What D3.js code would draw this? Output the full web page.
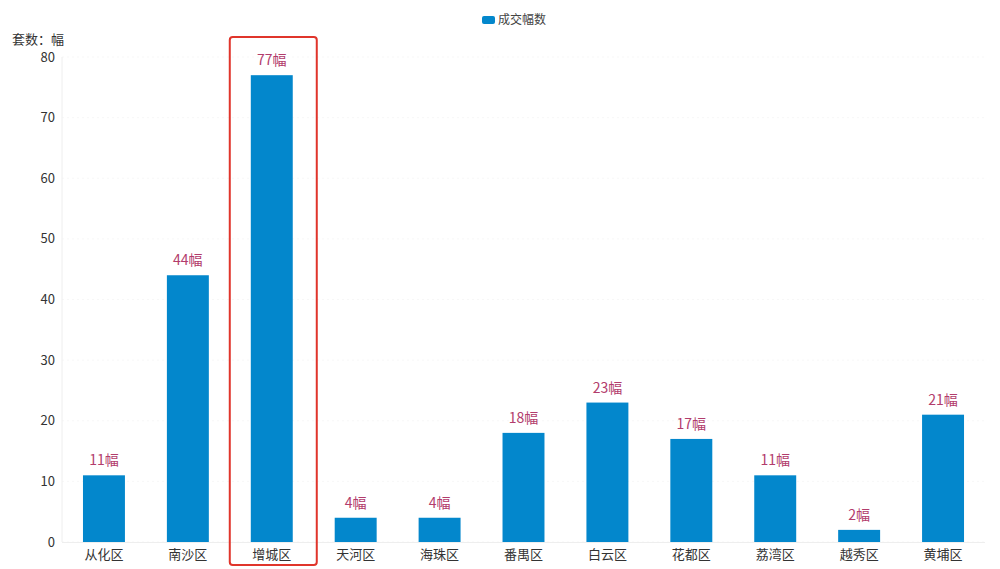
<!DOCTYPE html>
<html><head><meta charset="utf-8">
<script src="https://cdn.jsdelivr.net/npm/d3@7"></script>
<style>body{margin:0;background:#fff;}svg{display:block;font-family:"Noto Sans CJK SC","Noto Sans",sans-serif;}</style>
</head><body>
<svg id="c" width="1000" height="569"></svg>
<script>
const categories = ["从化区","南沙区","增城区","天河区","海珠区","番禺区","白云区","花都区","荔湾区","越秀区","黄埔区"];
const values = [11,44,77,4,4,18,23,17,11,2,21];
const yTicks = [0,10,20,30,40,50,60,70,80];
const seriesName = "成交幅数";
const highlight = "增城区";

const svg = d3.select("#c");
const m = {l:62, r:15, t:57, b:27};
const W = 1000, H = 569;
const x = d3.scaleBand().domain(categories).range([m.l, W-m.r]).paddingInner(0.5).paddingOuter(0.25);
const y = d3.scaleLinear().domain([0,80]).range([H-m.b, m.t]);

// faint grid
svg.append("g").selectAll("line").data(yTicks).join("line")
  .attr("x1", m.l).attr("x2", W-m.r).attr("y1", d=>y(d)).attr("y2", d=>y(d))
  .attr("stroke", "#f7f7f7").attr("stroke-width", 1).attr("stroke-dasharray","2,3");

// axes lines
svg.append("line").attr("x1", m.l).attr("x2", m.l).attr("y1", y(80)).attr("y2", y(0)).attr("stroke","#eeeeee");
svg.append("line").attr("x1", m.l).attr("x2", W-m.r).attr("y1", y(0)+0.5).attr("y2", y(0)+0.5).attr("stroke","#eeeeee");

// y tick labels
svg.append("g").selectAll("text").data(yTicks).join("text")
  .attr("x", 55).attr("y", d=>y(d)).attr("dy","0.35em").attr("text-anchor","end")
  .attr("font-size", 13).attr("fill", "#333").text(d=>d);

// x labels
svg.append("g").selectAll("text").data(categories).join("text")
  .attr("x", d=>x(d)+x.bandwidth()/2).attr("y", y(0)+12).attr("dy","0.35em").attr("text-anchor","middle")
  .attr("font-size", 13).attr("fill", "#333").text(d=>d);

// bars
svg.append("g").selectAll("rect").data(values).join("rect")
  .attr("x", (d,i)=>x(categories[i])).attr("width", x.bandwidth())
  .attr("y", d=>y(d)).attr("height", d=>y(0)-y(d))
  .attr("fill", "#0387cc");

// value labels
svg.append("g").selectAll("text").data(values).join("text")
  .attr("x", (d,i)=>x(categories[i])+x.bandwidth()/2).attr("y", d=>y(d)-10)
  .attr("text-anchor","middle").attr("font-size", 14).attr("fill", "#b23c6c").text(d=>d+"幅");

// highlight box
const hx = x(highlight) + x.bandwidth()/2;
svg.append("rect").attr("x", hx-42).attr("y", 37).attr("width", 87).attr("height", 528)
  .attr("rx", 3).attr("fill","none").attr("stroke","#e0352b").attr("stroke-width", 2);

// y axis title
svg.append("text").attr("x", 12).attr("y", 44).attr("font-size", 13).attr("fill","#333").text("套数：幅");

// legend
svg.append("rect").attr("x", 482).attr("y", 16).attr("width", 13).attr("height", 8).attr("rx", 2).attr("fill","#0387cc");
svg.append("text").attr("x", 498).attr("y", 20).attr("dy","0.35em").attr("font-size", 12).attr("fill","#444").text(seriesName);
</script>
</body></html>
